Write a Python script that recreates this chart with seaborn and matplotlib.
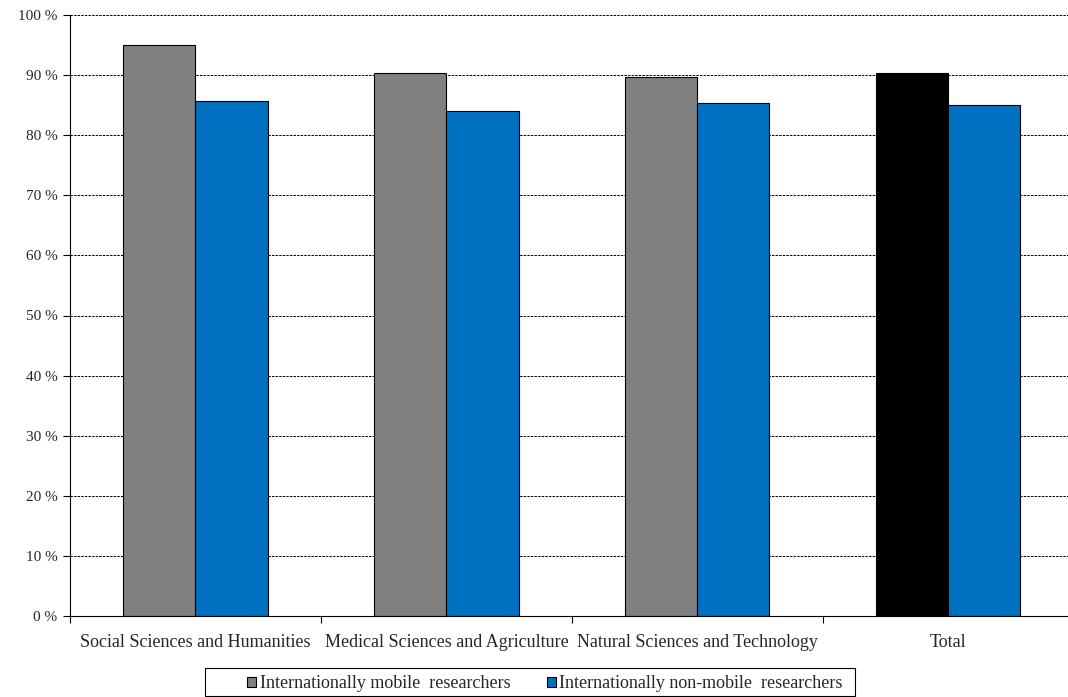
import pandas as pd
import numpy as np
import matplotlib
matplotlib.use("Agg")
import matplotlib.pyplot as plt
import seaborn as sns
from matplotlib.patches import Patch, Rectangle

categories = ["Social Sciences and Humanities", "Medical Sciences and Agriculture",
              "Natural Sciences and Technology", "Total"]
mobile = [95.0, 90.3, 89.7, 90.3]
non_mobile = [85.7, 84.0, 85.4, 85.0]
series = ["Internationally mobile  researchers", "Internationally non-mobile  researchers"]
y_ticks = list(range(0, 101, 10))

df = pd.DataFrame({
    "category": categories * 2,
    "value": mobile + non_mobile,
    "series": [series[0]] * 4 + [series[1]] * 4,
})

sns.set_style("white")
plt.rcParams["font.family"] = ["Liberation Serif", "DejaVu Serif"]
plt.rcParams["font.size"] = 11

W, H = 1068, 697
fig = plt.figure(figsize=(W / 100, H / 100), dpi=100)
ax = fig.add_axes([70 / W, 1 - 616 / H, 0.94, (616 - 15) / H])

palette = {series[0]: "#808080", series[1]: "#0070C0"}
sns.barplot(data=df, x="category", y="value", hue="series", palette=palette,
            order=categories, hue_order=series, width=0.574, saturation=1,
            edgecolor="black", linewidth=0.8, ax=ax, legend=False)

# the "Total" bar of mobile researchers is drawn black
for p in ax.patches:
    if p.get_height() > 0 and abs(p.get_x() + p.get_width() - 3) < 0.01 and p.get_facecolor()[0] > 0.4:
        p.set_facecolor("black")

ax.set_ylim(0, 100)
ax.set_xlim(-0.5, 3.5)
ax.set_yticks(y_ticks)
ax.set_yticklabels([f"{t} %" for t in y_ticks], fontsize=11)
ax.yaxis.grid(True, color="black", linestyle=(0, (2.5, 1.2)), linewidth=0.7)
ax.set_axisbelow(True)
ax.set_xlabel("")
ax.set_ylabel("")

ax.set_xticks(range(4))
ax.set_xticklabels(categories, fontsize=13)
ax.set_xticks(np.arange(-0.5, 3.6, 1), minor=True)
ax.tick_params(axis="x", which="major", length=0, pad=13)
ax.tick_params(axis="x", which="minor", bottom=True, length=5, direction="out",
               width=0.8, color="black")
ax.tick_params(axis="y", length=5, direction="out", width=0.8, color="black", left=True, pad=4)

for s in ["top", "right"]:
    ax.spines[s].set_visible(False)
for s in ["left", "bottom"]:
    ax.spines[s].set_color("black")
    ax.spines[s].set_linewidth(0.8)

# legend box as in the original
fig.patches.append(Rectangle((205 / W, 1 - 696 / H), 650 / W, 28 / H, transform=fig.transFigure,
                             facecolor="white", edgecolor="black", linewidth=0.8))
handles = [Patch(facecolor="#808080", edgecolor="black", linewidth=0.8),
           Patch(facecolor="#0070C0", edgecolor="black", linewidth=0.8)]
leg = fig.legend(handles, series, loc="center", bbox_to_anchor=(545 / W, 1 - 684 / H),
                 ncol=2, frameon=False, handlelength=0.5, handleheight=0.5,
                 handletextpad=0.2, columnspacing=2.0, borderpad=0, borderaxespad=0,
                 fontsize=13)

fig.savefig("out.png", dpi=100)
